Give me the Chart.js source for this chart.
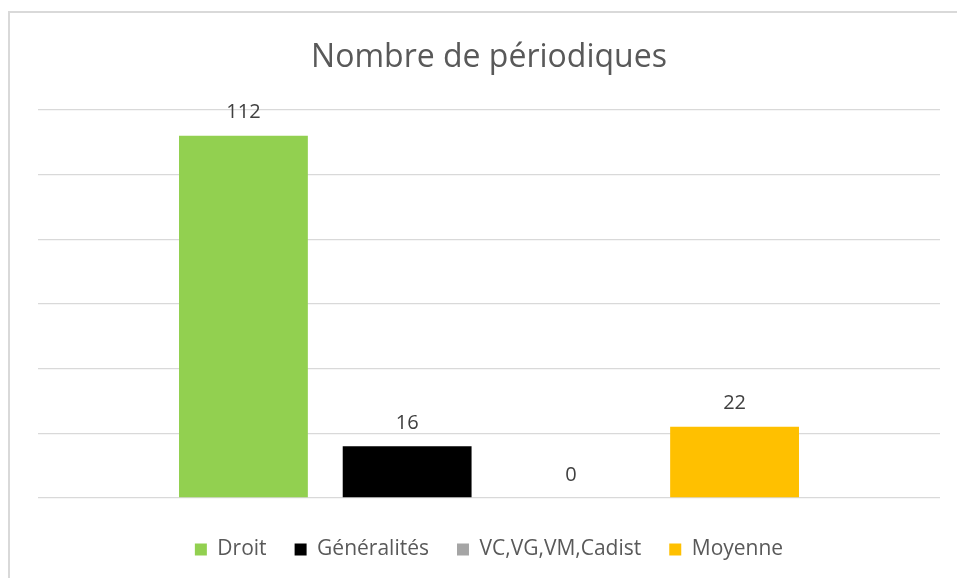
<!DOCTYPE html>
<html>
<head>
<meta charset="utf-8">
<script src="https://cdn.jsdelivr.net/npm/chart.js@4/dist/chart.umd.min.js"></script>
<style>
  html, body { margin: 0; padding: 0; background: #ffffff; }
  #wrap { position: absolute; left: 0; top: 0; width: 957px; height: 578px; }
  #frame { position: absolute; left: 8px; top: 11px; right: 0; bottom: -4px;
           border-left: 2px solid #d9d9d9; border-top: 2px solid #d9d9d9; }
  canvas { position: absolute; left: 0; top: 0; }
</style>
</head>
<body>
<div id="wrap">
  <div id="frame"></div>
  <canvas id="c" width="957" height="578"></canvas>
</div>
<script>
const chartTitle = "Nombre de périodiques";
const categories = [""];
const seriesNames = ["Droit", "Généralités", "VC,VG,VM,Cadist", "Moyenne"];
const seriesValues = [112, 16, 0, 22];
const seriesColors = ["#92D050", "#000000", "#A5A5A5", "#FFC000"];
const yMin = 0, yMax = 120, yStep = 20;

const FONT = "'Open Sans', 'Noto Sans', sans-serif";

const datasets = seriesNames.map((name, i) => ({
  label: name,
  data: [seriesValues[i]],
  backgroundColor: seriesColors[i],
  borderWidth: 0,
  barPercentage: 0.787,
  categoryPercentage: 0.726
}));

const valueLabels = {
  id: 'valueLabels',
  afterDatasetsDraw(chart) {
    const ctx = chart.ctx;
    ctx.save();
    ctx.font = "20px " + FONT;
    ctx.fillStyle = "#404040";
    ctx.textAlign = "center";
    ctx.textBaseline = "alphabetic";
    chart.data.datasets.forEach((ds, di) => {
      const meta = chart.getDatasetMeta(di);
      meta.data.forEach((el, idx) => {
        ctx.fillText(String(ds.data[idx]), el.x, el.y - 17.5);
      });
    });
    ctx.restore();
  }
};

new Chart(document.getElementById('c'), {
  type: 'bar',
  data: { labels: categories, datasets },
  plugins: [valueLabels],
  options: {
    responsive: false,
    animation: false,
    devicePixelRatio: 1,
    layout: { padding: { left: 38, right: 17, top: 0, bottom: 8 } },
    plugins: {
      title: {
        display: true,
        text: chartTitle,
        color: "#595959",
        font: { family: FONT, size: 32, weight: 'normal' },
        padding: { top: 38.5, bottom: 33 }
      },
      legend: {
        display: true,
        position: 'bottom',
        labels: {
          color: "#595959",
          font: { family: FONT, size: 21 },
          boxWidth: 12,
          boxHeight: 12,
          padding: 28
        }
      },
      tooltip: { enabled: false }
    },
    scales: {
      x: {
        display: true,
        grid: { display: false },
        border: { display: false },
        ticks: { display: false },
        afterFit(scale) { scale.height = 13; }
      },
      y: {
        min: yMin,
        max: yMax,
        ticks: { display: false, stepSize: yStep },
        border: { display: false },
        grid: { color: "#d9d9d9", lineWidth: 1.3, drawTicks: false },
        afterFit(scale) { scale.width = 0; }
      }
    }
  }
});
</script>
</body>
</html>
